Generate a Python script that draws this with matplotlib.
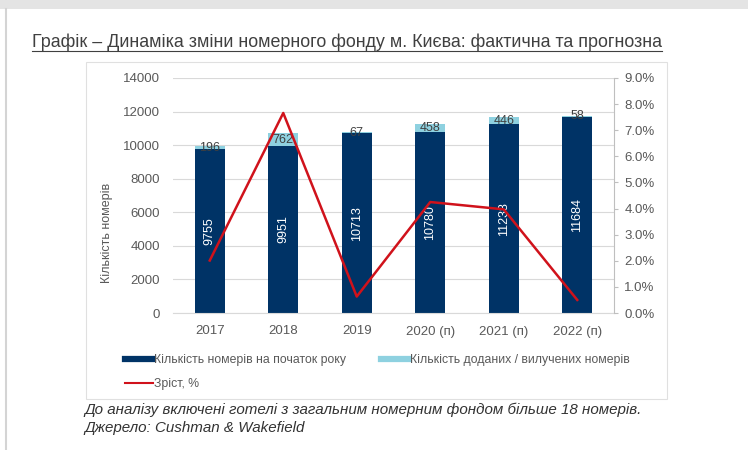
import matplotlib.pyplot as plt
import matplotlib.patches as mpatches
from matplotlib.lines import Line2D
from matplotlib.ticker import PercentFormatter

plt.rcParams['font.family'] = ['Liberation Sans', 'DejaVu Sans']

# data
years = ['2017', '2018', '2019', '2020 (п)', '2021 (п)', '2022 (п)']
rooms_start = [9755, 9951, 10713, 10780, 11238, 11684]
rooms_added = [196, 762, 67, 458, 446, 58]
growth = [0.0201, 0.0766, 0.0063, 0.0425, 0.0397, 0.0050]

navy = '#003366'
light = '#8ed1e0'
red = '#d0121b'
grey_txt = '#595959'

W, H = 748, 450
fig = plt.figure(figsize=(W / 100, H / 100), dpi=100)


def fx(px):
    return px / W


def fy(py):
    return 1 - py / H


# page decoration: top band, left border, chart box
fig.add_artist(mpatches.Rectangle((0, fy(9)), 1, 9 / H, transform=fig.transFigure,
                                  color='#e4e4e4', lw=0))
fig.add_artist(Line2D([fx(6), fx(6)], [0, fy(9)], transform=fig.transFigure,
                      color='#d4d4d4', lw=1.5))
fig.add_artist(mpatches.Rectangle((fx(86), fy(399)), (667 - 86) / W, (399 - 62) / H,
                                  transform=fig.transFigure, fill=False,
                                  edgecolor='#e0e0e0', lw=0.8))

ax = fig.add_axes([fx(173), fy(313), (614 - 173) / W, (313 - 78) / H])
x = list(range(len(years)))

b1 = ax.bar(x, rooms_start, width=0.41, color=navy, zorder=2)
b2 = ax.bar(x, rooms_added, bottom=rooms_start, width=0.41, color=light, zorder=2)
ax.bar_label(b1, labels=[str(v) for v in rooms_start], label_type='center',
             rotation=90, color='white', fontsize=9)
ax.bar_label(b2, labels=[str(v) for v in rooms_added], label_type='center',
             color='#404040', fontsize=9)

ax.set_ylim(0, 14000)
ax.set_yticks(range(0, 14001, 2000))
ax.set_xlim(-0.5, len(years) - 0.5)
ax.set_xticks(x)
ax.set_xticklabels(years)
ax.grid(axis='y', color='#d9d9d9', lw=0.8, zorder=0)
ax.set_axisbelow(True)
for s in ['left', 'right', 'top']:
    ax.spines[s].set_visible(False)
ax.spines['bottom'].set_color('#d9d9d9')
ax.tick_params(axis='both', length=0, labelsize=9.5, labelcolor=grey_txt)
ax.tick_params(axis='x', pad=9)
ax.tick_params(axis='y', pad=9.5)

ax2 = ax.twinx()
ax2.plot(x, growth, color=red, lw=1.8, zorder=3)
ax2.set_ylim(0, 0.09)
ax2.set_yticks([i / 100 for i in range(10)])
ax2.yaxis.set_major_formatter(PercentFormatter(xmax=1, decimals=1))
for s in ['left', 'top', 'bottom']:
    ax2.spines[s].set_visible(False)
ax2.spines['right'].set_color('#bfbfbf')
ax2.tick_params(axis='y', length=3, color='#bfbfbf', labelsize=9.5,
                labelcolor=grey_txt, pad=4.5)

fig.text(fx(107), fy(233), 'Кількість номерів', rotation=90, ha='center', va='center',
         fontsize=9, color=grey_txt)

handles = [Line2D([], [], color=navy, lw=4.5),
           Line2D([], [], color=red, lw=1.5),
           Line2D([], [], color=light, lw=4.5)]
labels = ['Кількість номерів на початок року', 'Зріст, %',
          'Кількість доданих / вилучених номерів']
fig.legend(handles, labels, ncol=2, loc='upper left', bbox_to_anchor=(fx(119), fy(348)),
           frameon=False, fontsize=8.8, handlelength=2.3, handletextpad=0.1,
           columnspacing=2.8, labelspacing=1.0, labelcolor=grey_txt, borderpad=0)

# title: fit the width of the (condensed) original
title_str = 'Графік – Динаміка зміни номерного фонду м. Києва: фактична та прогнозна'
title = fig.text(fx(32), fy(42), title_str, ha='left', va='center', fontsize=14,
                 color='#404040')
r = fig.canvas.get_renderer()
bb = title.get_window_extent(r)
title.set_fontsize(14 * 636 / bb.width)
bb = title.get_window_extent(r)
fig.add_artist(Line2D([bb.x0 / W, bb.x1 / W], [fy(51), fy(51)], transform=fig.transFigure,
                      color='#404040', lw=0.8))

fig.text(fx(84), fy(410), 'До аналізу включені готелі з загальним номерним фондом більше 18 номерів.',
         ha='left', va='center', fontsize=10.9, style='italic', color='#333333')
fig.text(fx(84), fy(428), 'Джерело: Cushman & Wakefield',
         ha='left', va='center', fontsize=10.9, style='italic', color='#333333')

fig.savefig('out.png', dpi=100)
